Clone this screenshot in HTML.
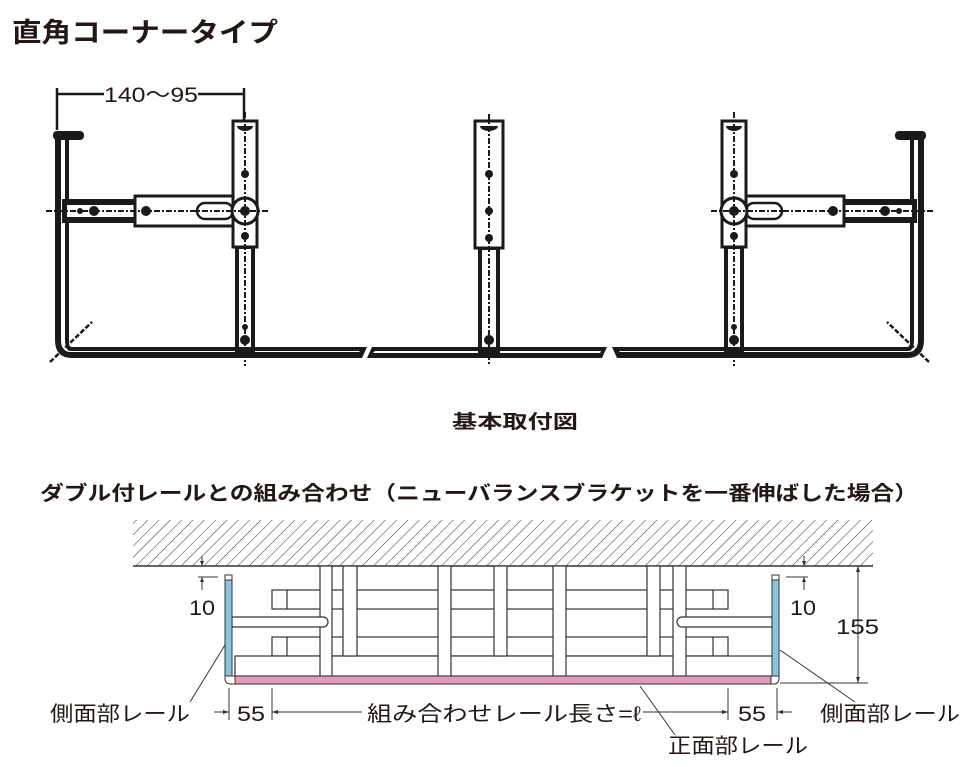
<!DOCTYPE html>
<html><head><meta charset="utf-8"><style>
html,body{margin:0;padding:0;background:#fff;}
svg{display:block;}
text{font-family:"Liberation Sans","Noto Sans CJK JP",sans-serif;fill:#231815;}
.b{font-weight:bold;}
</style></head><body>
<svg width="974" height="767" viewBox="0 0 974 767" xmlns="http://www.w3.org/2000/svg">
<defs>
<pattern id="h" width="8" height="8" patternUnits="userSpaceOnUse" patternTransform="rotate(45)">
<line x1="0" y1="0" x2="0" y2="8" stroke="#333" stroke-width="1"/>
</pattern>
<g id="asm">
 <path d="M55 138 V340 Q55 358 72 358 H362 L367 347 H72 Q69 347 69 343 V138 Z" fill="#1a1a1a"/>
 <path d="M61 140 V340 Q61 352 71 352 H359 L360 351 H71 Q65 351 65 340 V140Z" fill="#fff"/>
 <rect x="53" y="131" width="31" height="9" rx="4" fill="#1a1a1a"/>
 <rect x="62" y="199" width="80" height="24" fill="#1a1a1a"/>
 <rect x="67" y="205" width="73" height="12" fill="#fff"/>
 <rect x="135" y="196" width="106" height="30" fill="#fff" stroke="#1a1a1a" stroke-width="3"/>
 <rect x="197" y="203" width="36" height="16" rx="8" fill="#fff" stroke="#1a1a1a" stroke-width="2.5"/>
 <circle cx="94" cy="211" r="5" fill="#1a1a1a"/><circle cx="146" cy="211" r="5" fill="#1a1a1a"/>
 <circle cx="80" cy="211" r="3" fill="#1a1a1a"/>
 <rect x="233" y="121" width="24" height="126" fill="#fff" stroke="#1a1a1a" stroke-width="3"/>
 <rect x="235" y="247" width="20" height="110" fill="#1a1a1a"/>
 <rect x="239" y="249" width="12" height="98" fill="#fff"/>
 <circle cx="245" cy="211" r="13" fill="#fff" stroke="#1a1a1a" stroke-width="3"/>
 <circle cx="245" cy="211" r="5" fill="#1a1a1a"/>
 <circle cx="245" cy="174" r="4" fill="#1a1a1a"/><circle cx="245" cy="236" r="4" fill="#1a1a1a"/>
 <circle cx="245" cy="340" r="5" fill="#1a1a1a"/><circle cx="245" cy="327" r="3" fill="#1a1a1a"/>
 <path d="M237 126 h16 a8 5 0 0 1 -16 0z" fill="#1a1a1a"/>
 <line x1="46" y1="211" x2="268" y2="211" stroke="#1a1a1a" stroke-width="2" stroke-dasharray="6 2 2 2"/>
 <line x1="245" y1="112" x2="245" y2="366" stroke="#1a1a1a" stroke-width="2" stroke-dasharray="6 2 2 2"/>
 <line x1="50" y1="362" x2="92" y2="322" stroke="#1a1a1a" stroke-width="2.5" stroke-dasharray="5 2"/>
</g>
</defs>

<text x="12" y="42" class="b" font-size="27" textLength="266" lengthAdjust="spacingAndGlyphs">直角コーナータイプ</text>

<line x1="57" y1="88" x2="57" y2="130" stroke="#1a1a1a" stroke-width="2.5"/>
<line x1="244" y1="88" x2="244" y2="122" stroke="#1a1a1a" stroke-width="2.5"/>
<line x1="57" y1="94" x2="104" y2="94" stroke="#1a1a1a" stroke-width="2.5"/>
<line x1="198" y1="94" x2="244" y2="94" stroke="#1a1a1a" stroke-width="2.5"/>
<text x="104" y="102" font-size="21" textLength="94" lengthAdjust="spacingAndGlyphs">140～95</text>

<use href="#asm"/>
<use href="#asm" transform="translate(979,0) scale(-1,1)"/>

<path d="M372 347 H607 L602 358 H367 Z" fill="#1a1a1a"/>
<path d="M375 351 H601 L600 353 H373 Z" fill="#fff"/>
<rect x="475" y="121" width="28" height="127" fill="#fff" stroke="#1a1a1a" stroke-width="3"/>
<rect x="478" y="248" width="22" height="108" fill="#1a1a1a"/>
<rect x="482" y="250" width="14" height="97" fill="#fff"/>
<line x1="489" y1="114" x2="489" y2="366" stroke="#1a1a1a" stroke-width="2" stroke-dasharray="6 2 2 2"/>
<circle cx="489" cy="174" r="4" fill="#1a1a1a"/><circle cx="489" cy="211" r="4" fill="#1a1a1a"/><circle cx="489" cy="238" r="4" fill="#1a1a1a"/><circle cx="489" cy="340" r="5" fill="#1a1a1a"/>
<path d="M480 126 h18 a9 5 0 0 1 -18 0z" fill="#1a1a1a"/>

<text x="452" y="428" class="b" font-size="19" textLength="126" lengthAdjust="spacingAndGlyphs">基本取付図</text>
<text x="40" y="500" class="b" font-size="20" textLength="878" lengthAdjust="spacingAndGlyphs">ダブル付レールとの組み合わせ（ニューバランスブラケットを一番伸ばした場合）</text>

<rect x="133" y="520" width="740" height="46" fill="url(#h)"/>
<line x1="133" y1="566" x2="873" y2="566" stroke="#333" stroke-width="1.5"/>

<g fill="#fff" stroke="#333" stroke-width="1.2">
<rect x="272" y="590" width="456" height="19"/>
<rect x="272" y="637" width="456" height="19"/>
<rect x="235" y="656" width="540" height="20"/>
<line x1="287" y1="590" x2="287" y2="609"/><line x1="287" y1="637" x2="287" y2="656"/>
<line x1="713" y1="590" x2="713" y2="609"/><line x1="713" y1="637" x2="713" y2="656"/>
<rect x="320" y="566" width="12" height="110"/>
<rect x="343" y="566" width="14" height="90"/>
<rect x="438" y="566" width="13" height="110"/>
<rect x="494" y="566" width="13" height="90"/>
<rect x="553" y="566" width="13" height="110"/>
<rect x="647" y="566" width="13" height="90"/>
<rect x="673" y="566" width="13" height="110"/>
<path d="M232 617 H323 A5 5 0 0 1 323 627 H232 Z"/>
<path d="M772 617 H682 A5 5 0 0 0 682 627 H772 Z"/>
</g>
<rect x="225" y="579" width="7" height="97" fill="#8cc3df" stroke="#333" stroke-width="1"/>
<rect x="225" y="575" width="7" height="5" fill="#fff" stroke="#333" stroke-width="1"/>
<rect x="772" y="579" width="7" height="97" fill="#8cc3df" stroke="#333" stroke-width="1"/>
<rect x="772" y="575" width="7" height="5" fill="#fff" stroke="#333" stroke-width="1"/>
<rect x="235" y="676" width="536" height="8" fill="#e29ac0" stroke="#333" stroke-width="1"/>
<path d="M225 676 H235 V684 H231 Q225 684 225 678Z" fill="#fff" stroke="#333" stroke-width="1"/>
<path d="M779 676 H771 V684 H774 Q779 684 779 678Z" fill="#fff" stroke="#333" stroke-width="1"/>

<g stroke="#333" stroke-width="1" fill="none">
<line x1="202" y1="556" x2="202" y2="566"/>
<line x1="198" y1="577" x2="218" y2="577"/>
<line x1="202" y1="577" x2="202" y2="590"/>
<line x1="804" y1="556" x2="804" y2="566"/>
<line x1="786" y1="577" x2="808" y2="577"/>
<line x1="804" y1="577" x2="804" y2="590"/>
<line x1="858" y1="566" x2="858" y2="683"/>
<line x1="780" y1="683" x2="868" y2="683"/>
<line x1="229" y1="688" x2="229" y2="720"/>
<line x1="272" y1="688" x2="272" y2="720"/>
<line x1="728" y1="688" x2="728" y2="720"/>
<line x1="777" y1="688" x2="777" y2="720"/>
<line x1="214" y1="712" x2="229" y2="712"/>
<line x1="272" y1="712" x2="362" y2="712"/>
<line x1="643" y1="712" x2="728" y2="712"/>
<line x1="777" y1="712" x2="792" y2="712"/>
<line x1="225" y1="645" x2="190" y2="702"/>
<line x1="780" y1="650" x2="855" y2="702"/>
<line x1="640" y1="686" x2="675" y2="735"/>
</g>
<g fill="#333">
<path d="M202 566 l-2 -5 h4z"/><path d="M202 577 l-2 5 h4z"/>
<path d="M804 566 l-2 -5 h4z"/><path d="M804 577 l-2 5 h4z"/>
<path d="M858 566 l-2 6 h4z"/><path d="M858 683 l-2 -6 h4z"/>
<path d="M229 712 l-6 -2 v4z"/><path d="M272 712 l6 -2 v4z"/>
<path d="M728 712 l-6 -2 v4z"/><path d="M777 712 l6 -2 v4z"/>
</g>
<g font-size="21">
<text x="189" y="615" textLength="26" lengthAdjust="spacingAndGlyphs">10</text>
<text x="790" y="615" textLength="26" lengthAdjust="spacingAndGlyphs">10</text>
<text x="836" y="634" textLength="43" lengthAdjust="spacingAndGlyphs">155</text>
<text x="50" y="721" textLength="140" lengthAdjust="spacingAndGlyphs">側面部レール</text>
<text x="237" y="721" textLength="28" lengthAdjust="spacingAndGlyphs">55</text>
<text x="367" y="721" textLength="274" lengthAdjust="spacingAndGlyphs">組み合わせレール長さ=ℓ</text>
<text x="738" y="721" textLength="28" lengthAdjust="spacingAndGlyphs">55</text>
<text x="820" y="721" textLength="140" lengthAdjust="spacingAndGlyphs">側面部レール</text>
<text x="668" y="753" textLength="140" lengthAdjust="spacingAndGlyphs">正面部レール</text>
</g>
</svg>
</body></html>
